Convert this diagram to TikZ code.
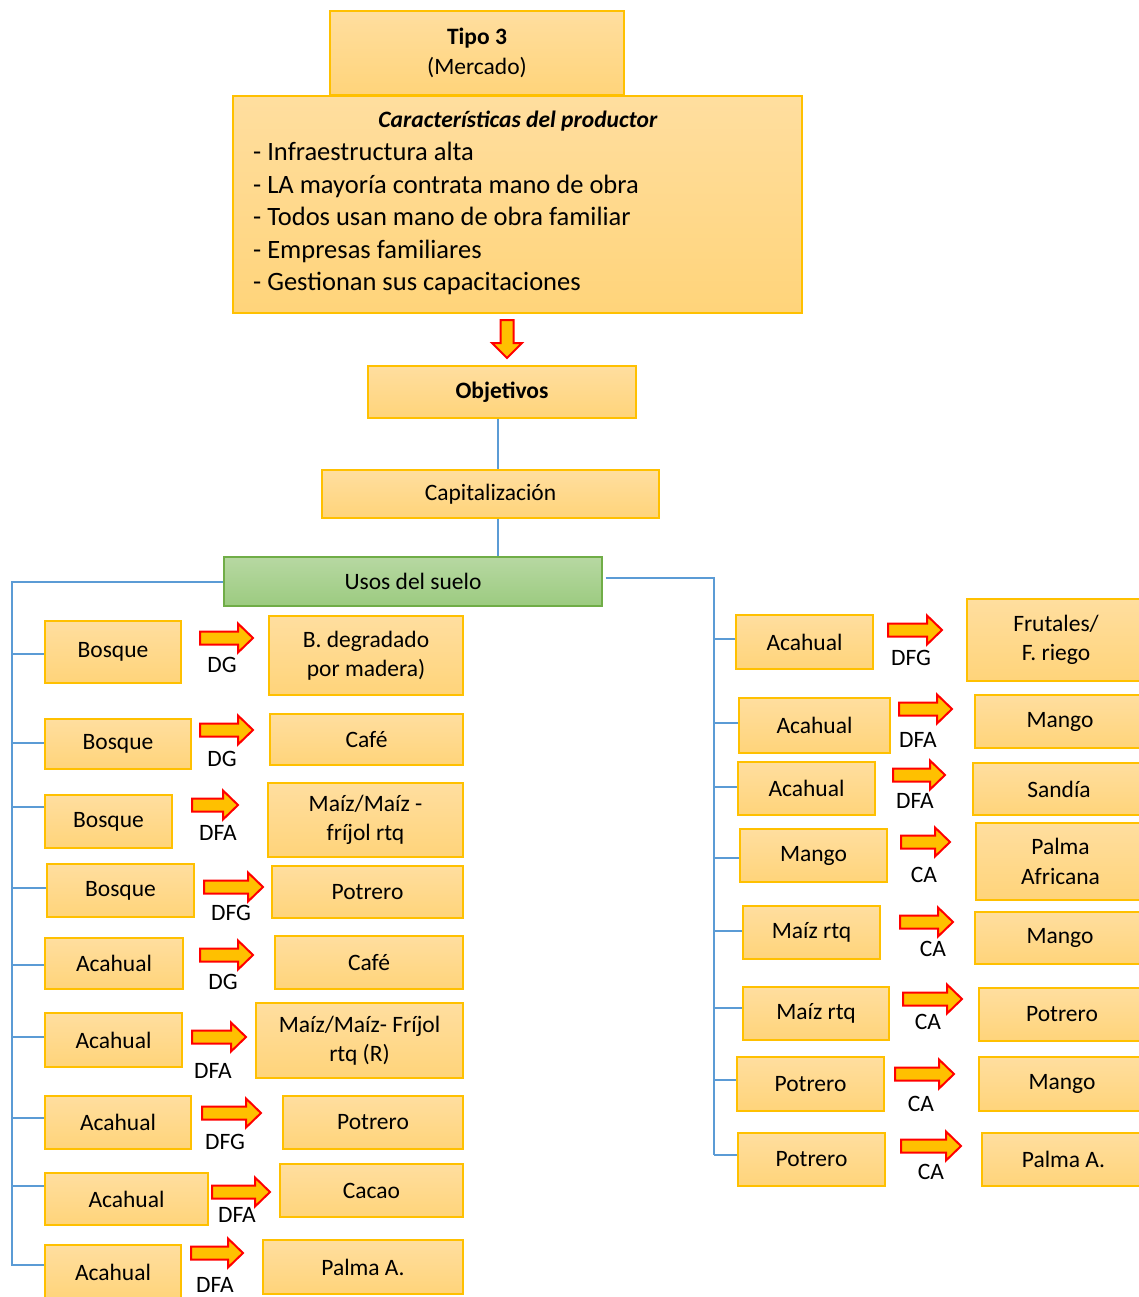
\documentclass[tikz,border=0pt]{standalone}
\usepackage{fontspec}
\setmainfont{Carlito}
\definecolor{boxtop}{HTML}{FFDE9F}
\definecolor{boxbot}{HTML}{FFD47A}
\definecolor{boxedge}{HTML}{FFC000}
\definecolor{grtop}{HTML}{B7D8A2}
\definecolor{grbot}{HTML}{9CCB80}
\definecolor{gredge}{HTML}{70AD47}
\definecolor{busc}{HTML}{5B9BD5}
\definecolor{arrfill}{HTML}{FFC000}
\newcommand\fsA{\fontsize{23.5}{29.5}\selectfont}
\newcommand\fsB{\fontsize{26.5}{32.5}\selectfont}
\newcommand\mybox[7]{\node[#1, minimum width={#4-#3}, minimum height={#6-#5}] (#2) at ({(#3+#4)/2},{(#5+#6)/2}) {#7};}
\newcommand\myarr[4]{\coordinate (#1) at ({(#2+#3)/2},#4);
  \draw[rarrow] (#2,{#4-6.5}) -- ({#3-15},{#4-6.5}) -- ({#3-15},{#4-14.5}) -- (#3,#4) -- ({#3-15},{#4+14.5}) -- ({#3-15},{#4+6.5}) -- (#2,{#4+6.5}) -- cycle;}
\tikzset{
  box/.style={draw=boxedge, line width=1.4pt, top color=boxtop, bottom color=boxbot, inner sep=0pt, font=\fsA, align=center, text=black},
  gbox/.style={draw=gredge, line width=1.4pt, top color=grtop, bottom color=grbot, inner sep=0pt, font=\fsA, align=center, text=black},
  rarrow/.style={draw=red, line width=2pt, fill=arrfill, line join=miter},
  lab/.style={font=\fsA, inner sep=0pt, text=black},
  bus/.style={draw=busc, line width=2.4pt}
}
\begin{document}
\begin{tikzpicture}[x=1pt,y=-1pt]
\useasboundingbox (0,0) rectangle (1139,1297);
\clip (0,0) rectangle (1139,1297);
% top
\mybox{box}{tipo}{330}{624}{11}{95}{\textbf{Tipo 3}\\(Mercado)}
\mybox{box}{car}{233}{802}{96}{313}{}
\node[lab] (cartit) at (518,121) {\textbf{\textit{Características del productor}}};
\node[lab, font=\fsB, anchor=base west] (l1) at (253,160.5) {- Infraestructura alta};
\node[lab, font=\fsB, anchor=base west] (l2) at (253,193.5) {- LA mayoría contrata mano de obra};
\node[lab, font=\fsB, anchor=base west] (l3) at (253,225.5) {- Todos usan mano de obra familiar};
\node[lab, font=\fsB, anchor=base west] (l4) at (253,258.5) {- Empresas familiares};
\node[lab, font=\fsB, anchor=base west] (l5) at (253,290.5) {- Gestionan sus capacitaciones};
\coordinate (darr) at (507,339);
\draw[rarrow] (500.5,320) -- (513.5,320) -- (513.5,343) -- (522,343) -- (507,358) -- (492,343) -- (500.5,343) -- cycle;
\mybox{box}{obj}{368}{636}{366}{418}{\textbf{Objetivos}}
\mybox{box}{cap}{322}{659}{470}{518}{Capitalización}
\mybox{gbox}{usos}{224}{602}{557}{606}{Usos del suelo}
\draw[bus] (obj.south -| 498,0) -- (cap.north -| 498,0);
\draw[bus] (cap.south -| 498,0) -- (usos.north -| 498,0);
% left column
\mybox{box}{b1}{45}{181}{621}{683}{Bosque}
\mybox{box}{t1}{269}{463}{616}{695}{B. degradado\\por madera)}
\myarr{a1}{200}{253}{638}
\node[lab] (g1) at (222,665) {DG};
\mybox{box}{b2}{45}{191}{719}{769}{Bosque}
\mybox{box}{t2}{270}{463}{714}{765}{Café}
\myarr{a2}{200}{253}{730}
\node[lab] (g2) at (222,759) {DG};
\mybox{box}{b3}{45}{172}{795}{848}{Bosque}
\mybox{box}{t3}{268}{463}{783}{857}{Maíz/Maíz -\\fríjol rtq}
\myarr{a3}{192}{238}{805}
\node[lab] (g3) at (218,833) {DFA};
\mybox{box}{b4}{47}{194}{864}{917}{Bosque}
\mybox{box}{t4}{272}{463}{866}{918}{Potrero}
\myarr{a4}{204}{263}{887}
\node[lab] (g4) at (231,913) {DFG};
\mybox{box}{b5}{45}{183}{938}{989}{Acahual}
\mybox{box}{t5}{275}{463}{936}{989}{Café}
\myarr{a5}{200}{253}{955}
\node[lab] (g5) at (223,982) {DG};
\mybox{box}{b6}{45}{182}{1013}{1067}{Acahual}
\mybox{box}{t6}{256}{463}{1003}{1078}{Maíz/Maíz- Fríjol\\rtq (R)}
\myarr{a6}{192}{246}{1037}
\node[lab] (g6) at (213,1071) {DFA};
\mybox{box}{b7}{45}{191}{1096}{1149}{Acahual}
\mybox{box}{t7}{283}{463}{1096}{1149}{Potrero}
\myarr{a7}{202}{261}{1113}
\node[lab] (g7) at (225,1142) {DFG};
\mybox{box}{b8}{45}{208}{1173}{1225}{Acahual}
\mybox{box}{t8}{280}{463}{1164}{1217}{Cacao}
\myarr{a8}{212}{270}{1192}
\node[lab] (g8) at (237,1215) {DFA};
\mybox{box}{b9}{45}{181}{1245}{1300}{Acahual}
\mybox{box}{t9}{263}{463}{1240}{1294}{Palma A.}
\myarr{a9}{191}{243}{1253}
\node[lab] (g9) at (215,1285) {DFA};
% right column
\mybox{box}{r1}{736}{873}{615}{669}{Acahual}
\mybox{box}{s1}{967}{1145}{599}{681}{Frutales/\\F. riego}
\myarr{c1}{888}{942}{630}
\node[lab] (h1) at (911,658) {DFG};
\mybox{box}{r2}{739}{890}{698}{753}{Acahual}
\mybox{box}{s2}{975}{1145}{695}{748}{Mango}
\myarr{c2}{899}{952}{709}
\node[lab] (h2) at (918,740) {DFA};
\mybox{box}{r3}{738}{875}{762}{815}{Acahual}
\mybox{box}{s3}{973}{1145}{763}{815}{Sandía}
\myarr{c3}{893}{945}{775}
\node[lab] (h3) at (915,801) {DFA};
\mybox{box}{r4}{740}{887}{829}{882}{Mango}
\mybox{box}{s4}{976}{1145}{823}{900}{Palma\\Africana}
\myarr{c4}{901}{950}{842}
\node[lab] (h4) at (924,875) {CA};
\mybox{box}{r5}{743}{880}{906}{959}{Maíz rtq}
\mybox{box}{s5}{975}{1145}{912}{964}{Mango}
\myarr{c5}{900}{953}{922}
\node[lab] (h5) at (933,949) {CA};
\mybox{box}{r6}{743}{889}{987}{1040}{Maíz rtq}
\mybox{box}{s6}{979}{1145}{988}{1041}{Potrero}
\myarr{c6}{903}{962}{999}
\node[lab] (h6) at (928,1022) {CA};
\mybox{box}{r7}{737}{884}{1057}{1111}{Potrero}
\mybox{box}{s7}{979}{1145}{1057}{1111}{Mango}
\myarr{c7}{895}{954}{1074}
\node[lab] (h7) at (921,1104) {CA};
\mybox{box}{r8}{738}{885}{1133}{1186}{Potrero}
\mybox{box}{s8}{982}{1145}{1133}{1186}{Palma A.}
\myarr{c8}{901}{961}{1146}
\node[lab] (h8) at (931,1172) {CA};
% buses
\coordinate (lbt) at (12,582);
\coordinate (lbb) at (12,1266);
\draw[bus] (usos.west |- 0,582) -- (lbt) -- (lbb);
\foreach \n/\y in {b1/654,b2/743,b3/807,b4/888,b5/965,b6/1037,b7/1118,b8/1186,b9/1265}
  \draw[bus] (12,\y) -- (\n.west |- 0,\y);
\coordinate (rbt) at (714,578);
\coordinate (rbb) at (714,1155);
\draw[bus] ([xshift=3pt]usos.east |- 0,578) -- (rbt) -- (rbb);
\foreach \n/\y in {r1/639,r2/723,r3/787,r4/858,r5/931,r6/1008,r7/1080,r8/1155}
  \draw[bus] (714,\y) -- (\n.west |- 0,\y);
\end{tikzpicture}
\end{document}
